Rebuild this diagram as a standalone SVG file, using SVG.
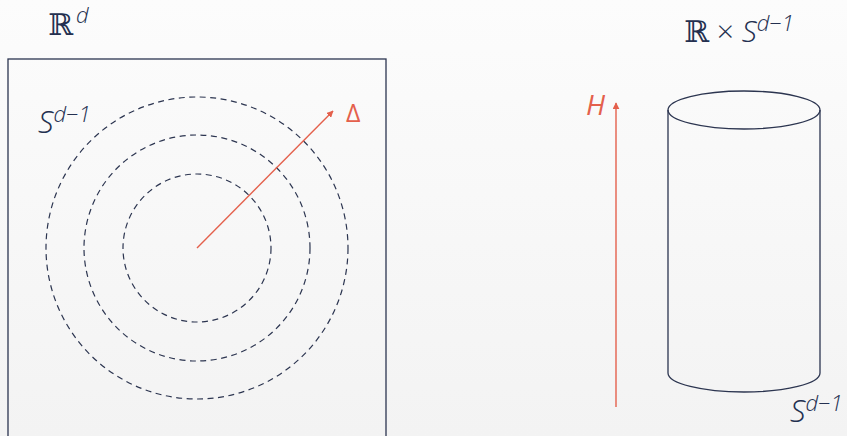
<svg xmlns="http://www.w3.org/2000/svg" width="847" height="436" viewBox="0 0 847 436">
<defs>
<linearGradient id="bg" x1="0" y1="0" x2="0" y2="1">
<stop offset="0" stop-color="#fcfcfc"/>
<stop offset="1" stop-color="#f3f3f3"/>
</linearGradient>
<marker id="ah" viewBox="0 0 10 10" refX="9" refY="5" markerWidth="7" markerHeight="7" markerUnits="userSpaceOnUse" orient="auto">
<path d="M0,0 L10,5 L0,10 z" fill="#e4604c"/>
</marker>
<style>
.ln{fill:none;stroke:#2c3550;stroke-width:1.3}
.dash{fill:none;stroke:#2c3550;stroke-width:1.2;stroke-dasharray:6 4.5}
.red{fill:none;stroke:#e4604c;stroke-width:1.4}
.t{font-family:"Open Sans",Lato,sans-serif;font-weight:300;fill:#243050;font-style:italic}
.bb{font-family:"DejaVu Serif",serif;fill:#243050;font-style:normal;font-weight:400}
.rt{font-family:"Open Sans",Lato,sans-serif;font-weight:400;fill:#e4604c}
</style>
</defs>
<rect width="847" height="436" fill="url(#bg)"/>
<g id="left-box">
<rect x="8" y="59" width="378" height="400" class="ln"/>
</g>
<g id="spheres">
<circle cx="197" cy="248" r="74" class="dash"/>
<circle cx="197" cy="248" r="113" class="dash"/>
<circle cx="197" cy="248" r="151" class="dash"/>
</g>
<g id="cylinder">
<ellipse cx="744" cy="110" rx="76" ry="19" class="ln"/>
<path d="M668,110 L668,373 A76,19 0 0 0 820,373 L820,110" class="ln"/>
</g>
<g id="connectors">
<line x1="197" y1="248" x2="333" y2="111" class="red" marker-end="url(#ah)"/>
<line x1="616" y1="407" x2="616" y2="103" class="red" marker-end="url(#ah)"/>
</g>
<g id="labels">
<text x="48" y="35" class="t" font-size="30"><tspan class="bb">ℝ</tspan><tspan font-size="22" dx="3" dy="-12">d</tspan></text>
<text x="684" y="42" class="t" font-size="30"><tspan class="bb">ℝ</tspan><tspan font-style="normal"> × </tspan>S<tspan font-size="22" dy="-11">d−1</tspan></text>
<text x="38" y="133" class="t" font-size="31">S<tspan font-size="22" dy="-11">d−1</tspan></text>
<text x="790" y="422" class="t" font-size="31">S<tspan font-size="22" dy="-11">d−1</tspan></text>
<text x="346" y="122" class="rt" font-size="25">Δ</text>
<text x="586" y="115" class="rt" font-size="28" font-style="italic">H</text>
</g>
</svg>
